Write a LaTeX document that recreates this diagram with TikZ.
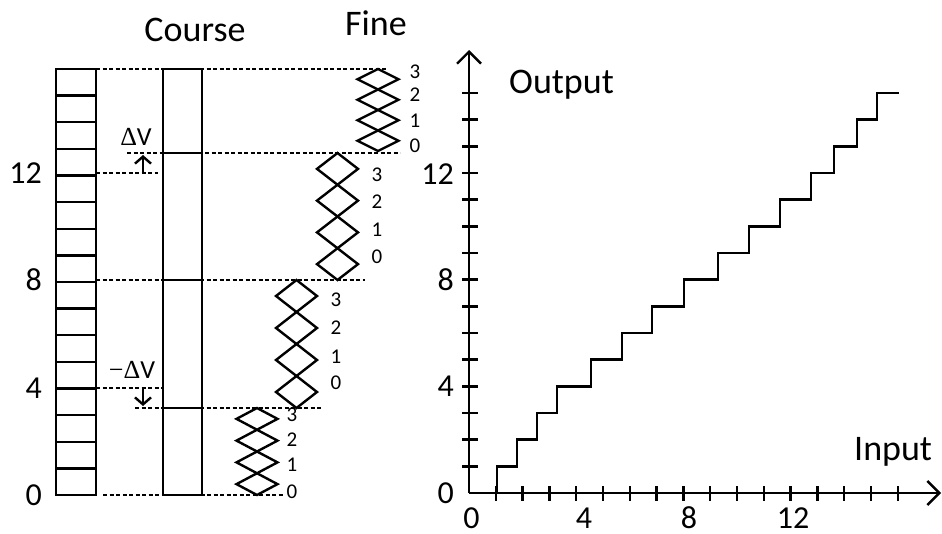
\documentclass[tikz,border=0pt]{standalone}
\usepackage{fontspec}
\setmainfont{Carlito}
\newfontfamily\symf{Liberation Serif}
\usetikzlibrary{arrows.meta}
\begin{document}
\begin{tikzpicture}[x=1pt,y=-1pt,line width=2.4pt,
  big/.style={font=\fontsize{36}{40}\selectfont,inner sep=0pt},
  num/.style={font=\fontsize{32}{36}\selectfont,inner sep=0pt},
  small/.style={font=\fontsize{21}{24}\selectfont,inner sep=0pt},
  dvlab/.style={font=\fontsize{26}{30}\selectfont,inner sep=0pt},
  guide/.style={line width=1.9pt,dash pattern=on 4pt off 2.5pt},
  axisarrow/.style={-{Straight Barb[length=12pt,width=24pt]}},
  dvarrow/.style={-{Straight Barb[length=7pt,width=16pt]}}]
\useasboundingbox (0,0) rectangle (942,533);

% titles
\node[big,anchor=base] (course) at (195,41) {Course};
\node[big,anchor=base] (fine) at (376,35) {Fine};

% ladder
\draw (56,69) rectangle (96,495);
\foreach \k in {1,...,15} \draw (56,{69+\k*26.625}) -- (96,{69+\k*26.625});
\node[num,anchor=east] (l12) at (43,173) {12};
\node[num,anchor=east] (l8) at (43,280) {8};
\node[num,anchor=east] (l4) at (43,388) {4};
\node[num,anchor=east] (l0) at (43,495) {0};

% coarse bar
\draw (163,69) rectangle (202,495);
\draw (163,153) -- (202,153);
\draw (163,280) -- (202,280);
\draw (163,408) -- (202,408);

% guide lines
\draw[guide] (96,69) -- (387,69);
\draw[guide] (127,153) -- (400,153);
\draw[guide] (96,173) -- (158,173);
\draw[guide] (96,280) -- (365,280);
\draw[guide] (96,388) -- (163,388);
\draw[guide] (135,408) -- (323,408);
\draw[guide] (103,495) -- (283,495);

% delta V arrows
\coordinate (dvA) at (143,173);
\coordinate (dvB) at (143,155);
\draw[dvarrow] (dvA) -- (dvB);
\node[dvlab] (dvtxt) at (136,137) {{\symf Δ}V};
\coordinate (mdvA) at (143,388);
\coordinate (mdvB) at (143,406);
\draw[dvarrow] (mdvA) -- (mdvB);
\node[dvlab] (mdvtxt) at (132,370) {{\symf −Δ}V};

% fine diamond chains
\foreach \cx/\t/\b in {378/69/151, 337.5/153/280, 296.5/280/408, 257/408/495} {
  \pgfmathsetmacro\h{(\b-\t)/4}
  \foreach \i in {0,...,3} {
    \draw[line join=miter] ({\cx},{\t+\i*\h}) -- ({\cx+20.5},{\t+(\i+0.5)*\h})
      -- ({\cx},{\t+(\i+1)*\h}) -- ({\cx-20.5},{\t+(\i+0.5)*\h}) -- cycle;
  }
}
% fine labels
\foreach \x/\ya/\yb/\yc/\yd/\n in {415/72/95/121/146/a, 377/175/202/230/257/b, 336/300/328/357/383/c, 292/415/440/465/492/d} {
  \node[small] (f3\n) at (\x,\ya) {3};
  \node[small] (f2\n) at (\x,\yb) {2};
  \node[small] (f1\n) at (\x,\yc) {1};
  \node[small] (f0\n) at (\x,\yd) {0};
}

% right graph axes
\coordinate (O) at (469,493);
\coordinate (ytop) at (469,50);
\coordinate (xend) at (941,493);
\draw[axisarrow] (O) -- (ytop);
\draw[axisarrow] (O) -- (xend);
\foreach \k in {1,...,15} \draw (462,{493-\k*26.667}) -- (478,{493-\k*26.667});
\foreach \k in {1,...,16} \draw ({469+\k*26.8},486) -- ({469+\k*26.8},501);

\node[num,anchor=east] (y0) at (455,493) {0};
\node[num,anchor=east] (y4) at (455,386) {4};
\node[num,anchor=east] (y8) at (455,280) {8};
\node[num,anchor=east] (y12) at (455,174) {12};
\node[num,anchor=base] (x0) at (471.5,528) {0};
\node[num,anchor=base] (x4) at (584,528) {4};
\node[num,anchor=base] (x8) at (689,528) {8};
\node[num,anchor=base] (x12) at (793,528) {12};

\node[big,anchor=base west] (out) at (508,93) {Output};
\node[big,anchor=base west] (inp) at (853,460) {Input};

% staircase
\draw[line join=miter] (497,493) |- (517,466.33) |- (537,439.67) |- (557,413) |- (591,386.33)
  |- (622,359.67) |- (652,333) |- (684,306.33) |- (718,279.67) |- (749,253)
  |- (780,226.33) |- (811,199.67) |- (834,173) |- (857,146.33) |- (877,119.67) |- (899,93);
\end{tikzpicture}
\end{document}
